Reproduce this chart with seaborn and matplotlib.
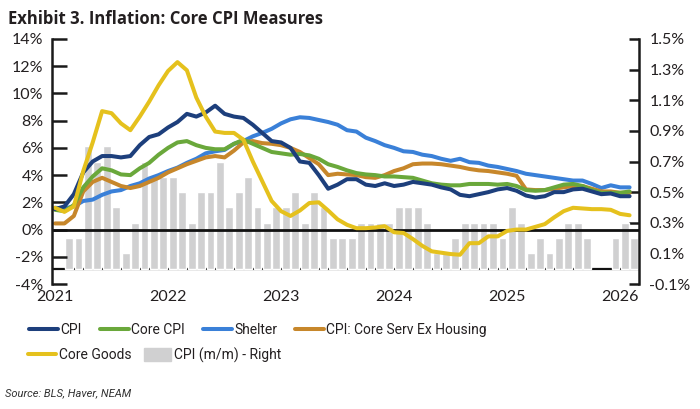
import matplotlib

matplotlib.use("Agg")
import matplotlib.pyplot as plt
import matplotlib.ticker as mticker
from matplotlib.lines import Line2D
from matplotlib.patches import Patch
import numpy as np
import pandas as pd
import seaborn as sns

# ---- data (y/y %, monthly, Jan 2021 - Feb 2026) ----
line_months = pd.period_range("2021-01", "2026-02", freq="M")

cpi = [1.5, 1.7, 2.6, 4.2, 5.0, 5.4, 5.4, 5.3, 5.4, 6.2, 6.8, 7.0,
       7.5, 7.9, 8.5, 8.3, 8.6, 9.1, 8.5, 8.3, 8.2, 7.7, 7.1, 6.5,
       6.4, 6.0, 5.0, 4.9, 4.0, 3.0, 3.3, 3.7, 3.7, 3.3, 3.2, 3.4,
       3.2, 3.3, 3.5, 3.4, 3.3, 3.1, 2.95, 2.55, 2.45, 2.6, 2.75, 2.95,
       3.05, 2.85, 2.5, 2.35, 2.45, 2.75, 2.75, 2.95, 3.0, 2.8, 2.6, 2.65,
       2.45, 2.45]
core_cpi = [1.45, 1.35, 1.8, 3.1, 3.9, 4.5, 4.35, 4.05, 4.0, 4.5, 4.9, 5.5,
            6.0, 6.4, 6.5, 6.2, 6.0, 5.9, 5.9, 6.3, 6.6, 6.3, 6.0, 5.7,
            5.6, 5.5, 5.55, 5.45, 5.2, 4.8, 4.6, 4.35, 4.15, 4.05, 4.0, 3.9,
            3.9, 3.85, 3.8, 3.6, 3.4, 3.3, 3.25, 3.25, 3.35, 3.35, 3.35, 3.3,
            3.35, 3.2, 2.9, 2.85, 2.9, 3.1, 3.3, 3.35, 3.2, 2.9, 2.7, 2.7,
            2.7, 2.8]
shelter = [1.6, 1.55, 1.7, 2.1, 2.2, 2.55, 2.8, 2.9, 3.2, 3.4, 3.75, 4.0,
           4.3, 4.55, 4.9, 5.2, 5.6, 5.75, 5.85, 6.3, 6.5, 6.85, 7.1, 7.4,
           7.8, 8.1, 8.25, 8.2, 8.05, 7.9, 7.7, 7.3, 7.2, 6.75, 6.5, 6.2,
           6.0, 5.75, 5.7, 5.5, 5.4, 5.2, 5.05, 5.2, 4.95, 4.9, 4.7, 4.6,
           4.45, 4.3, 4.1, 4.0, 3.9, 3.8, 3.7, 3.6, 3.6, 3.35, 3.05, 3.25,
           3.1, 3.1]
core_serv_ex_housing = [0.45, 0.45, 1.0, 2.8, 3.5, 3.8, 3.5, 3.2, 3.05, 3.2, 3.5, 3.8,
                        4.2, 4.5, 4.8, 5.05, 5.3, 5.4, 5.3, 5.8, 6.4, 6.5, 6.35, 6.3,
                        6.2, 6.0, 5.7, 5.25, 4.8, 4.0, 4.1, 4.05, 4.0, 3.85, 3.8, 4.0,
                        4.3, 4.5, 4.8, 4.85, 4.85, 4.8, 4.7, 4.6, 4.45, 4.35, 4.3, 4.2,
                        4.1, 3.95, 2.95, 2.9, 2.9, 3.0, 3.1, 3.2, 3.2, 3.0, 2.8, 2.8,
                        2.7, 2.7]
core_goods = [1.6, 1.3, 1.7, 4.3, 6.4, 8.7, 8.55, 7.8, 7.3, 8.3, 9.4, 10.6,
              11.65, 12.3, 11.7, 9.7, 8.3, 7.2, 7.1, 7.1, 6.6, 5.0, 3.55, 2.1,
              1.35, 1.0, 1.4, 1.95, 2.0, 1.4, 0.75, 0.35, 0.1, 0.1, 0.15, 0.25,
              -0.2, -0.25, -0.7, -1.2, -1.6, -1.7, -1.8, -1.85, -1.0, -1.0, -0.5, -0.5,
              -0.1, 0.0, 0.0, 0.2, 0.4, 0.9, 1.35, 1.6, 1.55, 1.5, 1.5, 1.45,
              1.15, 1.05]

# m/m %, right axis, Feb 2021 - Feb 2026 (Oct/Nov 2025 not published)
bar_months = pd.period_range("2021-02", "2026-02", freq="M")
cpi_mm = [0.2, 0.2, 0.8, 0.7, 0.8, 0.4, 0.1, 0.3, 0.7, 0.6, 0.6,
          0.6, 0.5, 0.3, 0.5, 0.5, 0.7, 0.4, 0.5, 0.6, 0.4, 0.3, 0.4,
          0.4, 0.5, 0.3, 0.5, 0.4, 0.2, 0.2, 0.2, 0.3, 0.3, 0.3, 0.3,
          0.4, 0.4, 0.4, 0.3, 0.1, 0.1, 0.2, 0.3, 0.3, 0.3, 0.3, 0.2,
          0.4, 0.3, 0.1, 0.2, 0.1, 0.2, 0.3, 0.3, 0.2, np.nan, np.nan, 0.2,
          0.3, 0.2]

year_labels = ["2021", "2022", "2023", "2024", "2025", "2026"]

series_names = ["Shelter", "CPI: Core Serv Ex Housing", "Core CPI", "CPI", "Core Goods"]
colors = {
    "CPI": "#1d3f7c",
    "Core CPI": "#6aa83b",
    "Shelter": "#3a80d8",
    "CPI: Core Serv Ex Housing": "#c7872b",
    "Core Goods": "#e5c11d",
}
bar_color = "#d0d0d1"
ink = "#231f20"

start = line_months[0]
line_x = np.array([(m - start).n for m in line_months])
bar_x = np.array([(m - start).n for m in bar_months]) + 0.5  # bars sit between month ticks

df = pd.DataFrame({
    "x": line_x,
    "CPI": cpi,
    "Core CPI": core_cpi,
    "Shelter": shelter,
    "CPI: Core Serv Ex Housing": core_serv_ex_housing,
    "Core Goods": core_goods,
}).melt(id_vars="x", var_name="series", value_name="yoy")

# ---- style ----
sns.set_theme(style="ticks")
plt.rcParams["font.family"] = ["Lato", "DejaVu Sans"]

fig = plt.figure(figsize=(7.0, 4.09), dpi=100)
ax = fig.add_axes([52 / 700, 1 - 284 / 409, (639 - 52) / 700, (284 - 39) / 409])
ax2 = ax.twinx()
ax.set_zorder(ax2.get_zorder() + 1)
ax.patch.set_visible(False)

# bars on right axis
ax2.axhline(0, color="#111111", lw=1.6, zorder=1)
ax2.bar(bar_x, cpi_mm, width=0.83, color=bar_color, zorder=2)
ax2.set_ylim(-0.1, 1.5)
ax2.yaxis.set_major_locator(mticker.FixedLocator(np.round(np.arange(-0.1, 1.51, 0.2), 1)))
ax2.yaxis.set_major_formatter(mticker.FuncFormatter(lambda v, _: f"{v:.1f}%"))

# lines on left axis
ax.axhline(0, color="#111111", lw=2.0, zorder=1)
sns.lineplot(data=df, x="x", y="yoy", hue="series", hue_order=series_names,
             palette=colors, linewidth=2.9, ax=ax, legend=False, sort=False)
ax.set_ylim(-4, 14)
ax.yaxis.set_major_locator(mticker.FixedLocator(np.arange(-4, 15, 2)))
ax.yaxis.set_major_formatter(mticker.FuncFormatter(lambda v, _: f"{v:.0f}%"))
ax.set_xlim(-0.32, 62.0)
ax.set_xticks(line_x[::12])
ax.set_xticklabels(year_labels)
ax.set_xlabel("")
ax.set_ylabel("")

for a in (ax, ax2):
    for s in a.spines.values():
        s.set_visible(False)
ax.spines["left"].set_visible(True)
ax2.spines["right"].set_visible(True)
ax.spines["left"].set_linewidth(1.8)
ax2.spines["right"].set_linewidth(1.8)
ax.spines["left"].set_color("#1a1a1a")
ax2.spines["right"].set_color("#1a1a1a")

ax.tick_params(axis="y", direction="in", length=10.5, width=1.8, pad=6,
               labelsize=11.5, color="#1a1a1a", labelcolor=ink)
ax2.tick_params(axis="y", direction="in", length=7.5, width=1.8, pad=7.5,
                labelsize=11.5, color="#1a1a1a", labelcolor=ink)
ax.tick_params(axis="x", length=0, pad=4.5, labelsize=11.5, labelcolor=ink)

# ---- legend (two rows, like the original) ----
leg_font = {"family": ["Roboto", "DejaVu Sans"], "size": 10}
row1 = ["CPI", "Core CPI", "Shelter", "CPI: Core Serv Ex Housing"]
h1 = [Line2D([], [], color=colors[n], lw=2.9) for n in row1]
leg1 = fig.legend(h1, row1, loc="center left", bbox_to_anchor=(29 / 700, 1 - 330 / 409),
                  ncol=4, frameon=False, handlelength=2.1, handletextpad=0.15,
                  columnspacing=1.3, borderpad=0, borderaxespad=0, prop=leg_font)
h2 = [Line2D([], [], color=colors["Core Goods"], lw=2.9), Patch(color=bar_color)]
leg2 = fig.legend(h2, ["Core Goods", "CPI (m/m) - Right"], loc="center left",
                  bbox_to_anchor=(28 / 700, 1 - 355 / 409), ncol=2, frameon=False,
                  handlelength=2.0, handleheight=1.0, handletextpad=0.2,
                  columnspacing=0.9, borderpad=0, borderaxespad=0, prop=leg_font)
for leg in (leg1, leg2):
    for t in leg.get_texts():
        t.set_color(ink)

fig.text(8 / 700, 1 - 19 / 409, "Exhibit 3. Inflation: Core CPI Measures",
         fontsize=12, fontweight="bold", color=ink, ha="left", va="center",
         family=["Open Sans", "DejaVu Sans"])
fig.text(5 / 700, 1 - 393 / 409, "Source: BLS, Haver, NEAM", fontsize=8,
         style="italic", color="#333333", ha="left", va="center",
         family=["Roboto", "DejaVu Sans"])

fig.savefig("out.png", dpi=100)
